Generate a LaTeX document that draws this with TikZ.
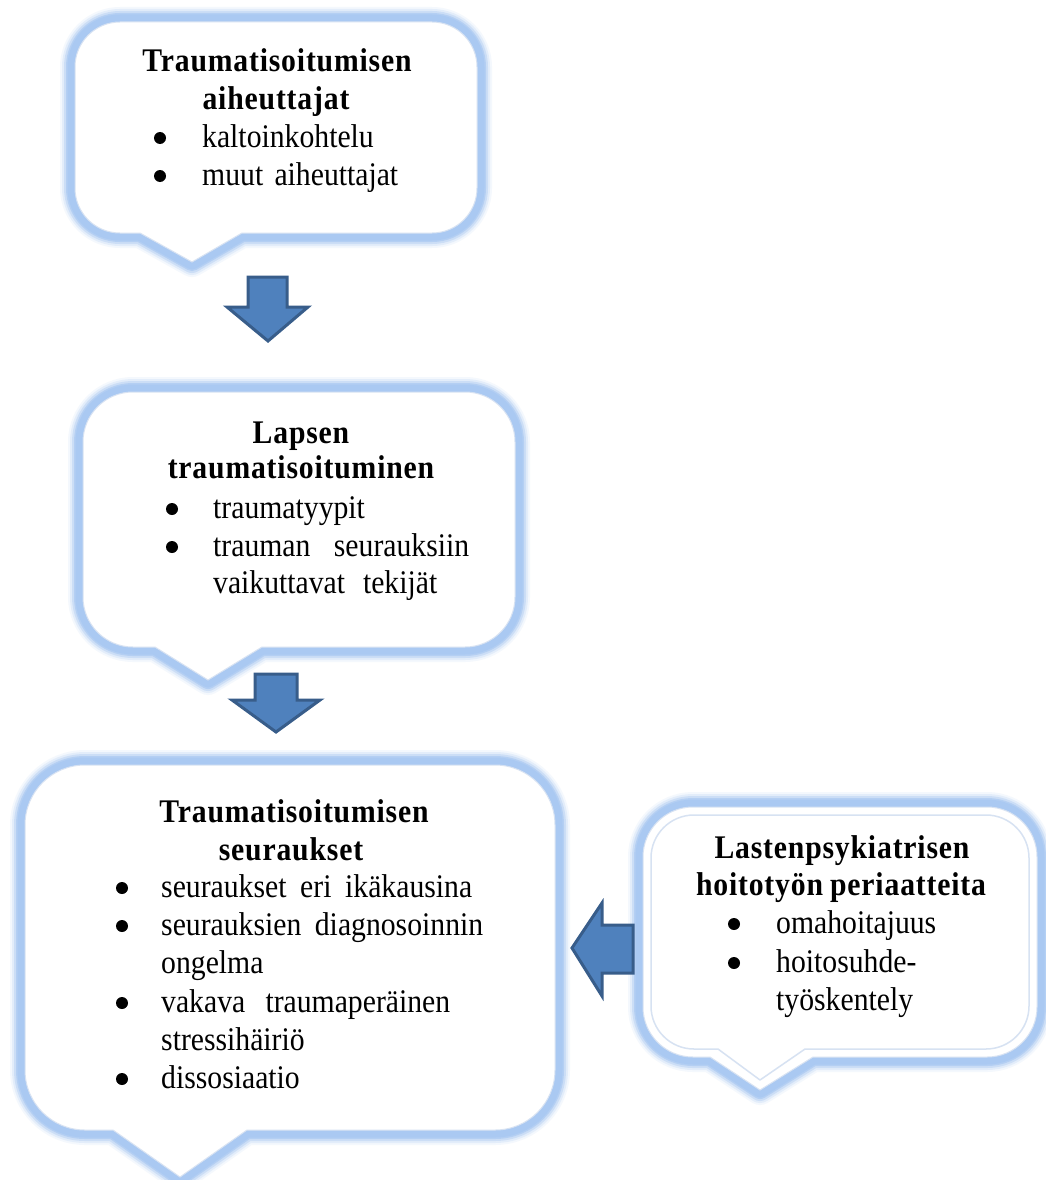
\documentclass[tikz,border=0pt]{standalone}
\usepackage{fontspec}
\setmainfont{Liberation Serif}[FakeStretch=0.9,BoldFeatures={LetterSpace=2.5}]
\definecolor{glowblue}{RGB}{170,201,242}
\definecolor{edgeblue}{RGB}{215,226,242}
\definecolor{arrowfill}{RGB}{79,129,189}
\definecolor{arrowdraw}{RGB}{56,93,138}
% callout path: L T R B r tailL tailR tipx tipy  (pixel coords, y down)
\newcommand\cpath[9]{(#1,#2+#5) arc[start angle=180,end angle=270,radius=#5]
  -- (#3-#5,#2) arc[start angle=270,end angle=360,radius=#5]
  -- (#3,#4-#5) arc[start angle=0,end angle=90,radius=#5]
  -- (#7,#4) -- (#8,#9) -- (#6,#4)
  -- (#1+#5,#4) arc[start angle=90,end angle=180,radius=#5] -- cycle}
\newcommand\glowbox[9]{%
  \foreach \w/\o in {30/0.12,26/0.22,22/0.4,18/0.7,15/1}{%
    \draw[draw=glowblue,line width=\w pt,opacity=\o,line join=round] \cpath{#1}{#2}{#3}{#4}{#5}{#6}{#7}{#8}{#9};}%
  \fill[white] \cpath{#1}{#2}{#3}{#4}{#5}{#6}{#7}{#8}{#9};
  \draw[edgeblue,line width=1pt] \cpath{#1}{#2}{#3}{#4}{#5}{#6}{#7}{#8}{#9};
}
\tikzset{
  txt/.style={anchor=base west,inner sep=0pt,font=\fontsize{33}{38}\selectfont},
  ttl/.style={anchor=base,inner sep=0pt,font=\fontsize{33}{38}\selectfont\bfseries},
  bul/.style={circle,fill=black,inner sep=0pt,minimum size=12pt},
  blockarrow/.style={fill=arrowfill,draw=arrowdraw,line width=3pt,line join=miter}
}
\begin{document}
\begin{tikzpicture}[x=1pt,y=-1pt]
\useasboundingbox (0,0) rectangle (1045,1180);
\fill[white] (0,0) rectangle (1045,1180);

% boxes
\glowbox{75}{22}{477}{233}{45}{140}{242}{192}{262}
\glowbox{83}{392}{515}{647}{50}{155}{262}{208}{680}
\glowbox{25}{765}{555}{1130}{60}{113}{247}{180}{1177}
\glowbox{643}{807}{1037}{1057}{50}{710}{813}{760}{1090}
\draw[edgeblue,line width=1.5pt,line join=round] \cpath{651}{815}{1029}{1049}{43}{718}{805}{760}{1080};

% block arrows
\draw[blockarrow] (248,277) -- (287,277) -- (287,307) -- (308,307) -- (268,341) -- (227,307) -- (248,307) -- cycle;
\draw[blockarrow] (255,674) -- (297,674) -- (297,700) -- (320,700) -- (276,732) -- (232,700) -- (255,700) -- cycle;
\draw[blockarrow] (572,948) -- (602,903) -- (602,925) -- (633,925) -- (633,973) -- (602,973) -- (602,996) -- cycle;

% box 1
\node[ttl] (t1a) at (277,72) {Traumatisoitumisen};
\node[ttl] (t1b) at (276,110) {aiheuttajat};
\node[bul] (b1a) at (160,138) {};
\node[txt] (l1a) at (202,147) {kaltoinkohtelu};
\node[bul] (b1b) at (160,176) {};
\node[txt] (l1b) at (202,185) {\makebox[196pt][s]{muut aiheuttajat}};

% box 2
\node[ttl] (t2a) at (301,443) {Lapsen};
\node[ttl] (t2b) at (301,478) {traumatisoituminen};
\node[bul] (b2a) at (172,509) {};
\node[txt] (l2a) at (213,518) {traumatyypit};
\node[bul] (b2b) at (172,547) {};
\node[txt] (l2b) at (213,556) {\makebox[256pt][s]{trauman seurauksiin}};
\node[txt] (l2c) at (213,593) {\makebox[224pt][s]{vaikuttavat tekijät}};

% box 3
\node[ttl] (t3a) at (294,822) {Traumatisoitumisen};
\node[ttl] (t3b) at (291,860) {seuraukset};
\node[bul] (b3a) at (122,888) {};
\node[txt] (l3a) at (161,897) {\makebox[311pt][s]{seuraukset eri ikäkausina}};
\node[bul] (b3b) at (122,926) {};
\node[txt] (l3b) at (161,935) {\makebox[322pt][s]{seurauksien diagnosoinnin}};
\node[txt] (l3c) at (161,973) {ongelma};
\node[bul] (b3c) at (122,1003) {};
\node[txt] (l3d) at (161,1012) {\makebox[289pt][s]{vakava traumaperäinen}};
\node[txt] (l3e) at (161,1050) {stressihäiriö};
\node[bul] (b3d) at (122,1079) {};
\node[txt] (l3f) at (161,1088) {dissosiaatio};

% box 4
\node[ttl] (t4a) at (842,858) {Lastenpsykiatrisen};
\node[ttl] (t4b) at (841,895) {\makebox[290pt][s]{hoitotyön periaatteita}};
\node[bul] (b4a) at (734,924) {};
\node[txt] (l4a) at (776,933) {omahoitajuus};
\node[bul] (b4b) at (734,963) {};
\node[txt] (l4b) at (776,972) {hoitosuhde-};
\node[txt] (l4c) at (776,1010) {työskentely};
\end{tikzpicture}
\end{document}
